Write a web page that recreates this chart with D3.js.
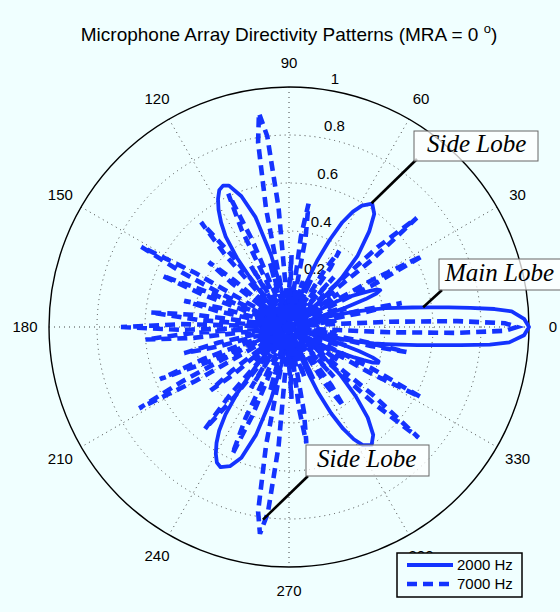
<!DOCTYPE html>
<html>
<head>
<meta charset="utf-8">
<script src="https://cdn.jsdelivr.net/npm/d3@7"></script>
<style>
  body { margin: 0; background: #f0ffff; }
  svg { display: block; font-family: "Liberation Sans", Arial, sans-serif; }
</style>
</head>
<body>
<div id="chart"></div>
<script>
// directivity: [angle in degrees, normalised response]
const pattern2000 = [
  [-180,0.12],[-176,0.01],[-172,0.15],[-168,0.01],[-164,0.14],[-160,0.02],[-156,0.16],[-152,0.01],[-148,0.14],[-144,0.02],[-140,0.18],[-136,0.1],
  [-134,0.0],[-132,0.1],[-130,0.22],[-128,0.35],[-126,0.45],[-124,0.52],[-122,0.57],[-120,0.61],[-118,0.64],[-116,0.65],[-113,0.63],[-110,0.58],[-107,0.47],[-104,0.31],[-101,0.15],
  [-97,0.0],[-93,0.12],[-89,0.01],[-85,0.16],[-81,0.02],[-78,0.14],[-75,0.03],
  [-72,0.0],[-70,0.08],[-68,0.18],[-66,0.30],[-64,0.40],[-62,0.48],[-60,0.54],[-58,0.58],[-55,0.60],[-52,0.57],[-49,0.50],[-46,0.40],[-43,0.29],[-40,0.18],[-37,0.1],[-34,0.04],
  [-32,0.0],[-30,0.06],[-29,0.11],[-28,0.17],[-27,0.22],[-26,0.26],[-25,0.30],[-24,0.34],[-23,0.38],[-22,0.40],[-21,0.40],[-20,0.37],[-19,0.31],[-18,0.22],[-17,0.1],
  [-16,0.0],[-15,0.1],[-14,0.17],[-13,0.24],[-12,0.30],[-11,0.36],[-10,0.41],[-9,0.47],[-8,0.54],[-7,0.62],[-6,0.72],[-5,0.84],[-4,0.92],[-2,0.98],
  [0,1.0],
  [2,0.98],[4,0.93],[5,0.86],[6,0.76],[7,0.67],[8,0.59],[9,0.52],[10,0.46],[11,0.41],[12,0.35],[13,0.29],[14,0.22],[15,0.15],[16,0.08],[17,0.0],
  [18,0.12],[19,0.25],[20,0.34],[21,0.39],[22,0.41],[23,0.40],[24,0.37],[25,0.33],[26,0.30],[27,0.27],[28,0.23],[29,0.17],[30,0.1],[31,0.05],[32,0.0],
  [34,0.04],[37,0.1],[40,0.18],[43,0.3],[46,0.41],[50,0.52],[53,0.59],[56,0.62],[59,0.59],[61,0.55],[63,0.49],[65,0.40],[67,0.30],[69,0.18],[71,0.08],[73,0.0],
  [75,0.03],[78,0.14],[81,0.02],[85,0.16],[89,0.01],[93,0.12],[97,0.0],
  [101,0.15],[104,0.31],[107,0.48],[110,0.58],[113,0.64],[115,0.65],[117,0.64],[119,0.61],[121,0.57],[123,0.52],[125,0.46],[127,0.36],[129,0.22],[131,0.1],[133,0.0],
  [136,0.1],[140,0.18],[144,0.02],[148,0.14],[152,0.01],[156,0.16],[160,0.02],[164,0.14],[168,0.01],[172,0.15],[176,0.01],[180,0.12]
];

const pattern7000 = [
  [-180,0.70],[-178.5,0.45],[-177.5,0.05],[-176.5,0.40],[-175,0.60],[-173.5,0.40],[-172,0.03],
  [-170.5,0.12],[-169.5,0.03],[-167.5,0.3],[-166,0.45],[-164.5,0.3],[-163,0.03],
  [-162,0.1],[-161,0.03],[-159.5,0.38],[-158,0.58],[-156.5,0.35],[-155.5,0.04],
  [-154,0.3],[-153,0.5],[-151.5,0.71],[-150,0.45],[-148.5,0.03],
  [-146.5,0.15],
  [-144,0.03],[-142.5,0.3],[-141,0.42],[-139.5,0.3],[-138,0.04],
  [-136,0.2],[-134.5,0.03],
  [-133,0.1],[-132,0.03],[-131,0.38],[-129.5,0.55],[-128,0.38],[-126.5,0.03],
  [-124,0.12],[-122,0.3],[-120,0.03],
  [-118.5,0.1],[-117,0.03],[-115.5,0.42],[-114,0.58],[-112.5,0.4],[-111,0.03],
  [-108.5,0.12],[-106.5,0.28],[-105,0.03],
  [-104,0.1],[-103,0.03],[-101,0.5],[-99.5,0.78],[-98,0.87],[-96.5,0.78],[-95,0.5],[-93,0.03],
  [-90,0.15],[-88,0.3],[-86,0.03],
  [-85,0.1],[-84,0.03],[-83,0.34],[-81.5,0.49],[-80,0.36],[-78.5,0.03],
  [-75,0.15],[-73,0.22],[-71,0.03],
  [-69,0.1],[-67,0.03],[-65,0.24],[-63,0.03],
  [-61,0.1],[-60,0.03],[-57.5,0.28],[-55.5,0.40],[-54,0.3],[-52.5,0.03],
  [-50,0.12],[-48,0.28],[-46,0.03],
  [-45,0.1],[-44,0.03],[-42,0.48],[-40.5,0.71],[-39,0.45],[-37,0.03],
  [-35.5,0.12],[-34,0.25],[-33,0.03],
  [-32,0.1],[-31,0.03],[-29.5,0.4],[-28,0.62],[-26.5,0.38],[-25,0.03],
  [-22.5,0.12],[-20,0.22],[-18,0.25],[-16,0.03],
  [-15,0.1],[-14,0.03],[-13,0.35],[-12,0.50],[-11,0.32],[-10,0.03],
  [-8.5,0.15],[-7.5,0.2],[-6,0.03],
  [-5,0.04],[-4,0.15],[-3,0.42],[-2,0.70],[-1,0.90],
  [0,0.95],
  [1,0.90],[2,0.70],[3,0.42],[4,0.15],[5,0.04],
  [6,0.03],[7.5,0.2],[8.5,0.15],
  [10,0.03],[11,0.32],[12,0.48],[13,0.33],[14,0.03],
  [15,0.1],[16,0.03],[18,0.25],[20,0.22],[22.5,0.12],
  [25,0.03],[26.5,0.38],[28,0.63],[29.5,0.4],[31,0.03],
  [32,0.1],[33,0.03],[34,0.25],[35.5,0.12],
  [37,0.03],[39,0.45],[40.5,0.70],[42,0.5],[44,0.03],
  [45,0.1],[46,0.03],[48,0.28],[50,0.12],
  [52.5,0.03],[55,0.3],[56.5,0.38],[58,0.28],[60,0.03],
  [61,0.1],[63,0.03],[65,0.22],[67,0.03],
  [69,0.1],[71,0.03],[73,0.2],[75,0.12],
  [78.5,0.03],[79.5,0.38],[81,0.52],[82.5,0.38],[84,0.03],
  [85,0.1],[86,0.03],[88,0.3],[90,0.15],
  [93,0.03],[95,0.5],[96.5,0.8],[98,0.9],[99.5,0.78],[101,0.5],[103,0.03],
  [104,0.1],[105,0.03],[106.5,0.28],[108.5,0.12],
  [111,0.03],[113,0.4],[114.5,0.61],[116,0.45],[118,0.03],
  [119,0.1],[120,0.03],[122,0.3],[124,0.12],
  [126.5,0.03],[128.5,0.38],[130,0.57],[131.5,0.4],[133,0.03],
  [134.5,0.03],[136,0.2],[138,0.03],
  [139.5,0.3],[141,0.43],[142.5,0.3],[144,0.03],
  [146.5,0.15],
  [148.5,0.03],[150,0.45],[151.5,0.70],[153,0.5],[154,0.3],
  [155.5,0.04],[156.5,0.35],[158,0.57],[159.5,0.38],[161,0.03],
  [162,0.1],[163,0.03],[164.5,0.3],[166,0.45],[167.5,0.3],[169.5,0.03],
  [170.5,0.12],[171.5,0.03],[172.5,0.38],[174,0.58],[175.5,0.38],[177,0.05],
  [178.5,0.45],[180,0.70]
];

const seriesNames = ["2000 Hz", "7000 Hz"];
const angleTicks = [0, 30, 60, 90, 120, 150, 180, 210, 240, 270, 300, 330];
const spokeAngles = [30, 60, 90, 120, 150, 180];
const radiusTicks = [0.2, 0.4, 0.6, 0.8, 1];
// lobe each label points at: [angle, radius]
const labelTexts = ["Side Lobe", "Main Lobe", "Side Lobe"];
const labelTargets = [[56.3, 0.62], [8.4, 0.565], [262.3, 0.81]];

const width = 560, height = 612;
const cx = 289, cy = 327, R = 240;
const blue = "#1433ff";

const r = d3.scaleLinear([0, 1], [0, R]);
const rad = deg => deg * Math.PI / 180;
const px = (deg, v) => cx + r(v) * Math.cos(rad(deg));
const py = (deg, v) => cy - r(v) * Math.sin(rad(deg));

const svg = d3.select("#chart").append("svg")
    .attr("width", width)
    .attr("height", height);

svg.append("rect").attr("width", width).attr("height", height).attr("fill", "#f0ffff");

svg.append("text")
    .attr("x", 289).attr("y", 41)
    .attr("text-anchor", "middle")
    .attr("font-size", 19)
    .text("Microphone Array Directivity Patterns (MRA = 0 ")
  .append("tspan")
    .attr("font-size", 13)
    .attr("dy", -8)
    .text("o")
  .append("tspan")
    .attr("font-size", 19)
    .attr("dy", 8)
    .text(")");

const g = svg.append("g");

// dotted rings and spokes
g.selectAll(".ring")
  .data(radiusTicks.filter(d => d < 1))
  .join("circle")
    .attr("cx", cx).attr("cy", cy)
    .attr("r", d => r(d))
    .attr("fill", "none")
    .attr("stroke", "#444")
    .attr("stroke-width", 1)
    .attr("stroke-dasharray", "1,4");

g.selectAll(".spoke")
  .data(spokeAngles)
  .join("line")
    .attr("x1", d => px(d, 1)).attr("y1", d => py(d, 1))
    .attr("x2", d => px(d + 180, 1)).attr("y2", d => py(d + 180, 1))
    .attr("stroke", "#444")
    .attr("stroke-width", 1)
    .attr("stroke-dasharray", "1,4");

g.append("circle")
    .attr("cx", cx).attr("cy", cy).attr("r", r(1))
    .attr("fill", "none")
    .attr("stroke", "#000")
    .attr("stroke-width", 1.4);

// radius labels sit along 82 degrees, like MATLAB polar
g.selectAll(".rlab")
  .data(radiusTicks)
  .join("text")
    .attr("x", d => px(82, d + 0.01) + 8)
    .attr("y", d => py(82, d + 0.01) - 3)
    .attr("font-size", 15)
    .text(d => d3.format("~g")(d));

g.selectAll(".alab")
  .data(angleTicks)
  .join("text")
    .attr("x", d => px(d, 1.1))
    .attr("y", d => py(d, 1.1))
    .attr("dy", "0.36em")
    .attr("text-anchor", "middle")
    .attr("font-size", 15)
    .text(d => d);

const line = d3.lineRadial()
    .angle(d => rad(90 - d[0]))
    .radius(d => r(d[1]))
    .curve(d3.curveLinearClosed);

const plot = svg.append("g").attr("transform", `translate(${cx},${cy})`);

plot.append("path")
    .attr("d", line(pattern2000))
    .attr("fill", "none")
    .attr("stroke", blue)
    .attr("stroke-width", 3.8)
    .attr("stroke-linejoin", "round");

plot.append("path")
    .attr("d", line(pattern7000))
    .attr("fill", "none")
    .attr("stroke", blue)
    .attr("stroke-width", 4.6)
    .attr("stroke-dasharray", "10,6");

// annotation boxes
const boxes = [
  {x: 414, y: 131, w: 124, h: 30, tx: 427, ax: 417, ay: 159},
  {x: 439, y: 259, w: 140, h: 31, tx: 445, ax: 442, ay: 290},
  {x: 306, y: 445, w: 123, h: 31, tx: 317, ax: 308, ay: 476}
];

boxes.forEach((b, i) => {
  const t = labelTargets[i];
  svg.append("line")
      .attr("x1", b.ax).attr("y1", b.ay)
      .attr("x2", px(t[0], t[1])).attr("y2", py(t[0], t[1]))
      .attr("stroke", "#000")
      .attr("stroke-width", 2.6);
  svg.append("rect")
      .attr("x", b.x).attr("y", b.y)
      .attr("width", b.w).attr("height", b.h)
      .attr("fill", "#fff")
      .attr("fill-opacity", 0.75)
      .attr("stroke", "#666")
      .attr("stroke-width", 1);
  svg.append("text")
      .attr("x", b.tx).attr("y", b.y + b.h - 9)
      .attr("font-family", "'Liberation Serif', 'Times New Roman', serif")
      .attr("font-style", "italic")
      .attr("font-size", 25)
      .text(labelTexts[i]);
});

// legend
const lg = svg.append("g").attr("transform", "translate(397,553)");
lg.append("rect")
    .attr("width", 125).attr("height", 44)
    .attr("fill", "#f0ffff")
    .attr("stroke", "#000")
    .attr("stroke-width", 1.5);

seriesNames.forEach((name, i) => {
  const y = 12 + i * 19;
  lg.append("line")
      .attr("x1", 10).attr("x2", 56)
      .attr("y1", y).attr("y2", y)
      .attr("stroke", blue)
      .attr("stroke-width", i === 0 ? 3.8 : 4.6)
      .attr("stroke-dasharray", i === 0 ? null : "10,6");
  lg.append("text")
      .attr("x", 60).attr("y", y)
      .attr("dy", "0.36em")
      .attr("font-size", 15)
      .text(name);
});
</script>
</body>
</html>
